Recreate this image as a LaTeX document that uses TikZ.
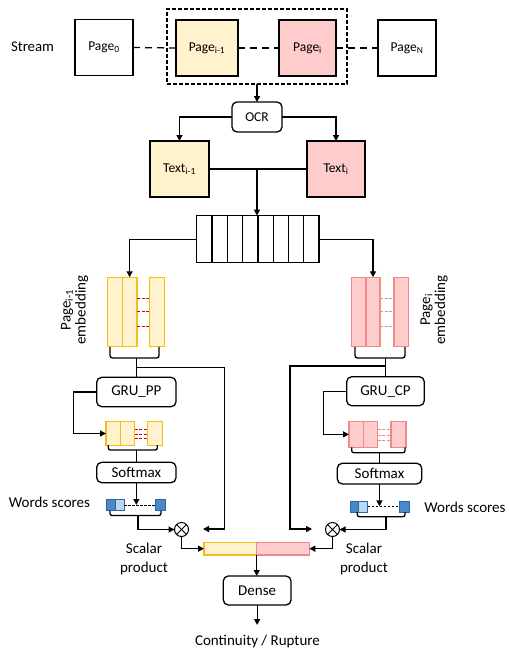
\documentclass[tikz,border=0pt]{standalone}
\usepackage{fontspec}
\setmainfont{Carlito}
\usetikzlibrary{arrows.meta,calc}
\definecolor{yfill}{HTML}{FFF2CC}
\definecolor{ydraw}{HTML}{F2BE1A}
\definecolor{pfill}{HTML}{FFCCCC}
\definecolor{pdraw}{HTML}{EE8A8A}
\definecolor{rdash}{HTML}{D40000}
\definecolor{bdark}{HTML}{4A88CC}
\definecolor{bdraw}{HTML}{2E66A6}
\definecolor{blight}{HTML}{BDD7EE}
\tikzset{
  base/.style={inner sep=0pt, outer sep=0pt},
  pagebox/.style={base, draw, line width=1.4pt, minimum height=56pt, font=\fontsize{13.5}{15}\selectfont},
  rbox/.style={base, draw, line width=1.3pt, rounded corners=5pt, font=\fontsize{15}{17}\selectfont},
  ycell/.style={base, draw=ydraw, fill=yfill, line width=1.2pt},
  pcell/.style={base, draw=pdraw, fill=pfill, line width=1.2pt},
  tcell/.style={base, draw, line width=1.3pt, minimum width=15.3pt, minimum height=47pt},
  bd/.style={base, draw=bdraw, fill=bdark, line width=0.8pt, minimum height=11pt},
  bl/.style={base, draw=bdraw, fill=blight, line width=0.8pt, minimum height=11pt},
  arr/.style={-{Triangle[length=6pt,width=6pt]}, line width=1.3pt},
  ln/.style={line width=1.3pt},
  lbl/.style={base, font=\fontsize{15}{18}\selectfont, align=center},
  mul/.style={base, draw, circle, line width=1pt, minimum size=14pt, fill=white}
}
\begin{document}
\begin{tikzpicture}[x=1pt,y=-1pt]
\useasboundingbox (0,0) rectangle (509,651);
% ---- top row
\node[lbl, font=\fontsize{14.8}{16}\selectfont] (stream) at (32.5,47) {Stream};
\node[base, draw, line width=1.3pt, dash pattern=on 4pt off 2pt, minimum width=180pt, minimum height=75pt] (win) at (257,46.5) {};
\node[pagebox, minimum width=58pt] (p0) at (104,47.5) {Page\textsubscript{0}};
\node[pagebox, minimum width=62pt, fill=yfill] (pim) at (207,48) {Page\textsubscript{i-1}};
\node[pagebox, minimum width=57pt, fill=pfill] (pi) at (307.5,48) {Page\textsubscript{i}};
\node[pagebox, minimum width=58pt] (pn) at (407,48) {Page\textsubscript{N}};
\draw[ln, dash pattern=on 7pt off 5pt] (p0.east) -- (pim.west);
\draw[ln, dash pattern=on 7pt off 5pt] (pim.east) -- (pi.west);
\draw[ln, dash pattern=on 7pt off 5pt] (pi.east) -- (pn.west);
% ---- OCR
\node[rbox, minimum width=50pt, minimum height=30pt, font=\fontsize{13.5}{15}\selectfont] (ocr) at (257,117) {OCR};
\draw[arr] (win.south) -- (ocr.north);
\node[pagebox, minimum width=59pt, fill=yfill] (tim) at (179.5,169) {Text\textsubscript{i-1}};
\node[pagebox, minimum width=58pt, fill=pfill] (ti) at (336,169) {Text\textsubscript{i}};
\draw[arr] (ocr.west) -| (tim.north);
\draw[arr] (ocr.east) -| (ti.north);
\draw[ln] (tim.east) -- (ti.west);
% ---- tokens
\foreach \k in {1,...,8}{
  \node[tcell] (t\k) at ({196.7+15.3*(\k-0.5)},239.2) {};
}
\coordinate (tmid) at (257,169);
\draw[arr] (tmid) -- (tmid |- t5.north);
% ---- embeddings left
\node[ycell, minimum width=14.6pt, minimum height=69.5pt] (e1) at (115,312) {};
\node[ycell, minimum width=14.7pt, minimum height=69.5pt] (e2) at (129.65,312) {};
\node[ycell, minimum width=14.6pt, minimum height=69.5pt] (e3) at (157,312) {};
\foreach \yy in {298.3,311.7,326}{
  \draw[rdash, line width=1pt, dash pattern=on 3pt off 1.5pt] (137,\yy) -- (149.7,\yy);
}
\draw[arr] (t1.west) -| (e2.north);
\node[lbl, rotate=90] (embL) at (74.5,310) {Page\textsubscript{i-1}\\[-3pt]embedding};
% ---- embeddings right
\node[pcell, minimum width=14.3pt, minimum height=69.5pt] (f1) at (358.85,312) {};
\node[pcell, minimum width=14pt, minimum height=69.5pt] (f2) at (373,312) {};
\node[pcell, minimum width=14.7pt, minimum height=69.5pt] (f3) at (401.35,312) {};
\foreach \yy in {298.3,311.7,326}{
  \draw[pdraw, line width=1pt, dash pattern=on 3pt off 1.5pt] (380,\yy) -- (394,\yy);
}
\draw[arr] (t8.east) -| (f2.north);
\node[lbl, rotate=90] (embR) at (434,310) {Page\textsubscript{i}\\[-3pt]embedding};
% ---- GRU
\node[rbox, minimum width=79.3pt, minimum height=29.4pt] (gpp) at (136.35,392) {GRU\_PP};
\node[rbox, minimum width=77.6pt, minimum height=29pt] (gcp) at (385.5,391.2) {GRU\_CP};
\coordinate (bL) at (136.35,358);
\coordinate (bL2) at (136.35,367.7);
\draw[ln, rounded corners=2.5pt] (110,346.8) |- (bL) -| (159,346.8);
\draw[ln] (bL) -- (gpp.north);
\coordinate (tipL) at (203,529);
\draw[arr] (bL2) -| (224.5,529) -- (tipL);
\coordinate (bR) at (385.5,358);
\coordinate (bR2) at (385.5,366);
\draw[ln, rounded corners=2.5pt] (355,346.8) |- (bR) -| (405,346.8);
\draw[ln] (bR) -- (gcp.north);
\coordinate (tipR) at (312,529);
\draw[arr] (bR2) -| (290,529) -- (tipR);
% ---- GRU outputs
\node[ycell, minimum width=14.7pt, minimum height=23.5pt] (o1) at (113.35,433.5) {};
\node[ycell, minimum width=14pt, minimum height=23.5pt] (o2) at (127.7,433.5) {};
\node[ycell, minimum width=15.4pt, minimum height=23.5pt] (o3) at (155,433.5) {};
\foreach \yy in {429,434,438.7}{
  \draw[rdash, line width=1pt, dash pattern=on 3pt off 1.5pt] (134.7,\yy) -- (147.3,\yy);
}
\draw[arr] (gpp.west) -- ++(-23.4,0) |- (o1.west);
\node[pcell, minimum width=14.3pt, minimum height=26pt] (q1) at (356.15,434.4) {};
\node[pcell, minimum width=14.4pt, minimum height=26pt] (q2) at (370.5,434.4) {};
\node[pcell, minimum width=15pt, minimum height=26pt] (q3) at (398.5,434.4) {};
\foreach \yy in {429,435,440}{
  \draw[pdraw, line width=1pt, dash pattern=on 3pt off 1.5pt] (377.7,\yy) -- (391,\yy);
}
\draw[arr] (gcp.west) -- ++(-23.4,0) |- (q1.west);
% ---- softmax
\node[rbox, minimum width=79.3pt, minimum height=20.4pt] (sm1) at (136.35,472.5) {Softmax};
\node[rbox, minimum width=84.4pt, minimum height=20.7pt] (sm2) at (379.5,473.6) {Softmax};
\coordinate (cL) at (136.35,450);
\draw[ln, rounded corners=2pt] (108.3,445.2) |- (cL) -| (157.3,445.2);
\draw[ln] (cL) -- (sm1.north);
\coordinate (cR) at (379.5,452.7);
\draw[ln, rounded corners=2pt] (351.7,447.4) |- (cR) -| (405,447.4);
\draw[ln] (cR) -- (sm2.north);
% ---- word scores
\node[bd, minimum width=9pt] (w1) at (110.5,505) {};
\node[bl, minimum width=9.3pt] (w2) at (119.65,505) {};
\node[bd, minimum width=10pt] (w3) at (160,505) {};
\draw[line width=0.8pt, dash pattern=on 2.5pt off 1.5pt] (w2.east) -- (w3.west);
\coordinate (wsL) at (136.35,505);
\draw[arr] (sm1.south) -- (wsL);
\node[bd, minimum width=8.5pt] (v1) at (354.15,506.4) {};
\node[bl, minimum width=9.4pt] (v2) at (363.1,506.4) {};
\node[bd, minimum width=10.3pt] (v3) at (404.15,506.4) {};
\draw[line width=0.8pt, dash pattern=on 2.5pt off 1.5pt] (v2.east) -- (v3.west);
\coordinate (wsR) at (379.5,506.4);
\draw[arr] (sm2.south) -- (wsR);
\node[lbl] (wsl) at (49.5,502.7) {Words scores};
\node[lbl] (wsr) at (465,507.7) {Words scores};
% ---- multiply
\node[mul] (m1) at (181.5,529.5) {};
\draw[line width=1pt] (m1.north west) -- (m1.south east) (m1.north east) -- (m1.south west);
\node[mul] (m2) at (332.5,529.5) {};
\draw[line width=1pt] (m2.north west) -- (m2.south east) (m2.north east) -- (m2.south west);
\coordinate (dL) at (138,515.5);
\draw[ln, rounded corners=2pt] (110,510.5) |- (dL) -| (161,510.5);
\draw[arr] (dL) |- (m1.west);
\coordinate (dR) at (386,516.7);
\draw[ln, rounded corners=2pt] (357.3,511.8) |- (dR) -| (405,511.8);
\draw[arr] (dR) |- (m2.east);
% ---- concat
\node[ycell, minimum width=52.7pt, minimum height=12.7pt] (cy) at (230.35,548.65) {};
\node[pcell, minimum width=52.6pt, minimum height=12.7pt] (cp) at (283,548.65) {};
\draw[arr] (m1.south) |- (cy.west);
\draw[arr] (m2.south) |- (cp.east);
\node[lbl] (spL) at (144,559) {Scalar\\[1pt]product};
\node[lbl] (spR) at (364,559) {Scalar\\[1pt]product};
% ---- dense
\node[rbox, minimum width=67.7pt, minimum height=29pt] (dense) at (257.15,590.5) {Dense};
\draw[arr] (cy.south east) -- (cy.south east |- dense.north);
\coordinate (outp) at (257.15,625);
\draw[arr] (dense.south) -- (outp);
\node[lbl] (out) at (257.5,641.7) {Continuity / Rupture};
\end{tikzpicture}
\end{document}
